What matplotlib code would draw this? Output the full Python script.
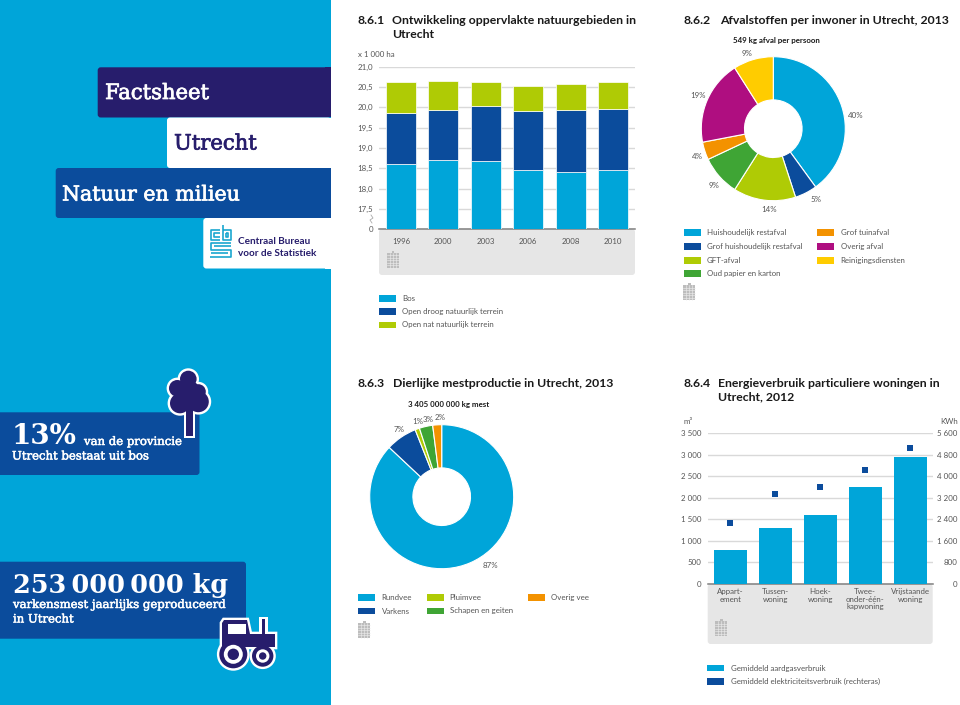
import matplotlib
matplotlib.use("Agg")
import matplotlib.pyplot as plt
import matplotlib.patheffects as pe
from matplotlib.patches import Rectangle, FancyBboxPatch, Circle, Polygon

W, H = 960, 705
BLUE = "#00A5D9"
DARK = "#0B4C9C"
NAVY = "#271D6C"
LIME = "#AFCB05"
GREEN = "#3FA535"
ORANGE = "#F39200"
MAGENTA = "#AF0E80"
YELLOW = "#FFCC00"
GRID = "#D9D9D9"
AXIS = "#808080"
TXT = "#555555"
PANEL = "#E6E6E6"
SANS = "Lato"
SLAB = "DejaVu Serif"
SMALL = 5.7

# 8.6.1 oppervlakte natuurgebieden
years = ["1996", "2000", "2003", "2006", "2008", "2010"]
bos = [18.60, 18.70, 18.67, 18.45, 18.42, 18.45]
droog = [1.25, 1.23, 1.36, 1.47, 1.51, 1.50]
nat = [0.77, 0.72, 0.59, 0.60, 0.65, 0.68]
area_ticks = [17.5, 18.0, 18.5, 19.0, 19.5, 20.0, 20.5, 21.0]
area_names = ["Bos", "Open droog natuurlijk terrein", "Open nat natuurlijk terrein"]

# 8.6.2 afval
waste_names = ["Huishoudelijk restafval", "Grof huishoudelijk restafval", "GFT-afval",
               "Oud papier en karton", "Grof tuinafval", "Overig afval", "Reinigingsdiensten"]
waste_pct = [40, 5, 14, 9, 4, 19, 9]

# 8.6.3 mest
manure_names = ["Rundvee", "Varkens", "Pluimvee", "Schapen en geiten", "Overig vee"]
manure_pct = [87, 7, 1, 3, 2]

# 8.6.4 energie
house_types = ["Appart-\nement", "Tussen-\nwoning", "Hoek-\nwoning",
               "Twee-\nonder-één-\nkapwoning", "Vrijstaande\nwoning"]
gas = [800, 1300, 1600, 2250, 2950]
power = [2250, 3350, 3600, 4250, 5050]
gas_ticks = [0, 500, 1000, 1500, 2000, 2500, 3000, 3500]
power_ticks = [0, 800, 1600, 2400, 3200, 4000, 4800, 5600]
energy_names = ["Gemiddeld aardgasverbruik", "Gemiddeld elektriciteitsverbruik (rechteras)"]


def spaced(v):
    return f"{v:,}".replace(",", " ")


def chart_axes(x0, y0, x1, y1):
    # pixel box, y measured from the top
    ax = fig.add_axes([x0 / W, 1 - y1 / H, (x1 - x0) / W, (y1 - y0) / H])
    ax.patch.set_visible(False)
    for s in ax.spines.values():
        s.set_visible(False)
    ax.spines["bottom"].set_visible(True)
    ax.spines["bottom"].set_color(AXIS)
    ax.spines["bottom"].set_linewidth(1.1)
    return ax


def label(x, y, s, size=SMALL, color=TXT, ha="left", weight="normal", family=SANS, zorder=10, fat=0):
    t = bg.text(x, y, s, fontsize=size, color=color, ha=ha, va="center",
                fontweight=weight, family=family, zorder=zorder)
    if fat:
        t.set_path_effects([pe.withStroke(linewidth=fat, foreground=color)])


def band(x0, y0, x1, y1, color, square_right=True):
    bg.add_patch(FancyBboxPatch((x0 + 3, y0 + 3), x1 - x0 - 6, y1 - y0 - 6,
                                boxstyle="round,pad=3,rounding_size=3", fc=color, ec="none", zorder=2))
    if square_right:
        bg.add_patch(Rectangle((x1 - 6, y0), 6, y1 - y0, fc=color, ec="none", zorder=2))


def panel(x0, y0, x1, y1):
    bg.add_patch(FancyBboxPatch((x0 + 3, y0 + 3), x1 - x0 - 6, y1 - y0 - 6,
                                boxstyle="round,pad=3,rounding_size=3", fc=PANEL, ec="none", zorder=1))


def legend_row(x, y, color, s, tx):
    bg.add_patch(Rectangle((x, y - 3.3), 17, 6.6, fc=color, ec="none"))
    label(tx, y, s)


def doc_icon(x, y):
    bg.add_patch(Rectangle((x, y + 2), 12, 15, fc="#BDBDBD", ec="none", zorder=3))
    bg.add_patch(Rectangle((x + 5, y), 2.5, 2.5, fc="#BDBDBD", ec="none", zorder=3))
    for i in range(1, 6):
        bg.plot([x, x + 12], [y + 2 + i * 2.5] * 2, color="#EEEEEE", lw=0.4, zorder=4)
    for i in range(1, 4):
        bg.plot([x + i * 3] * 2, [y + 2, y + 17], color="#EEEEEE", lw=0.4, zorder=4)


def donut(cx, cy, values, colors):
    R = 72
    ax = fig.add_axes([(cx - R) / W, 1 - (cy + R) / H, 2 * R / W, 2 * R / H])
    ax.pie(values, colors=colors, startangle=90, counterclock=False, radius=1,
           wedgeprops=dict(width=0.6, edgecolor="white", linewidth=0.8))
    ax.set_xlim(-1, 1)
    ax.set_ylim(-1, 1)
    return ax


fig = plt.figure(figsize=(W / 100, H / 100), dpi=100, facecolor="white")
bg = fig.add_axes([0, 0, 1, 1])
bg.set_xlim(0, W)
bg.set_ylim(H, 0)
bg.axis("off")

# left column
bg.add_patch(Rectangle((0, 0), 331, H, fc=BLUE, ec="none", zorder=0))
band(97.7, 67.3, 331, 117.5, NAVY)
band(167, 117.5, 331, 168, "white")
band(55.7, 168, 331, 218, DARK)
band(203.3, 218, 331, 268.5, "white")
label(105, 93.5, "Factsheet", 15.2, "white", family=SLAB, zorder=5, fat=0.5)
label(174, 144, "Utrecht", 15.2, NAVY, family=SLAB, zorder=5, fat=0.5)
label(62, 195, "Natuur en milieu", 14.8, "white", family=SLAB, zorder=5, fat=0.5)
label(238, 242, "Centraal Bureau", 7.2, NAVY, weight="bold", zorder=5)
label(238, 254, "voor de Statistiek", 7.2, NAVY, weight="bold", zorder=5)

# cbs logo
for xs, ys in [([220, 211, 211, 220], [230, 230, 240, 240]),
               ([220, 214, 214, 220], [233, 233, 237, 237]),
               ([222.5, 222.5, 231, 231, 222.5], [225, 240, 240, 230, 230]),
               ([225.5, 228, 228, 225.5, 225.5], [233, 233, 237, 237, 233]),
               ([231, 211, 211, 231, 231, 210], [243, 243, 249.5, 249.5, 257, 257]),
               ([214, 231], [246, 246]), ([211, 228], [253, 253])]:
    bg.plot(xs, ys, color="#1AA7CF", lw=1.2, zorder=5, solid_capstyle="butt")

band(-10, 412.3, 199.5, 475, DARK, square_right=False)
band(-10, 561.7, 246, 638.7, DARK, square_right=False)
label(12, 436, "13%", 20, "white", weight="bold", family=SLAB, zorder=6)
label(84, 441.5, "van de provincie", 8.4, "white", family=SLAB, zorder=6, fat=0.35)
label(12, 456, "Utrecht bestaat uit bos", 8.4, "white", family=SLAB, zorder=6, fat=0.35)
label(13, 585, "253\u2009000\u2009000 kg", 18.4, "white", weight="bold", family=SLAB, zorder=8)
label(13, 604.5, "varkensmest jaarlijks geproduceerd", 8.4, "white", family=SLAB, zorder=8, fat=0.35)
label(13, 619, "in Utrecht", 8.4, "white", family=SLAB, zorder=8, fat=0.35)

# tree icon
tree = [(188.3, 379, 8.3), (177.3, 388.3, 8.3), (198.3, 391.7, 7.5), (180, 403.3, 10), (198.3, 401.7, 10.5),
        (188, 392, 12)]
for edge, col, z in [(2.4, "white", 6), (0, NAVY, 7)]:
    for x, y, r in tree:
        bg.add_patch(Circle((x, y), r + edge, fc=col, ec="none", zorder=z))
    bg.add_patch(Rectangle((186 - edge, 405), 7 + 2 * edge, 31 + edge, fc=col, ec="none", zorder=z))

# tractor icon
body = [(224, 620), (247, 620), (250, 634), (275, 634), (275, 647), (222, 647), (222, 623)]
for edge, col, z in [(2.4, "white", 9), (0, NAVY, 10)]:
    bg.add_patch(Polygon(body, closed=True, fc=col, ec="white" if edge else "none",
                         lw=edge * 1.4, zorder=z))
    bg.add_patch(Rectangle((261.7 - edge, 619 - edge), 3.6 + 2 * edge, 20, fc=col, ec="none", zorder=z))
    bg.add_patch(Circle((233.3, 654.3), 14 + edge, fc=col, ec="none", zorder=z))
    bg.add_patch(Circle((262.7, 656), 10.7 + edge, fc=col, ec="none", zorder=z))
bg.add_patch(Rectangle((228, 624), 18, 10, fc="white", ec="none", zorder=11))
for x, y, r1, r2 in [(233.3, 654.3, 9.5, 5.7), (262.7, 656, 6.7, 3.7)]:
    bg.add_patch(Circle((x, y), r1, fc="white", ec="none", zorder=11))
    bg.add_patch(Circle((x, y), r2, fc=NAVY, ec="none", zorder=12))

# titles
title = dict(size=8.8, color="#1A1A1A", weight="bold")
label(358, 21, "8.6.1", **title)
label(392.3, 21, "Ontwikkeling oppervlakte natuurgebieden in", **title)
label(392.3, 35, "Utrecht", **title)
label(683, 21, "8.6.2", **title)
label(720, 21, "Afvalstoffen per inwoner in Utrecht, 2013", **title)
label(358, 383.5, "8.6.3", **title)
label(393, 383.5, "Dierlijke mestproductie in Utrecht, 2013", **title)
label(683, 383.5, "8.6.4", **title)
label(718, 383.5, "Energieverbruik particuliere woningen in", **title)
label(718, 397, "Utrecht, 2012", **title)

# 8.6.1
panel(379, 229, 635, 275)
ax1 = chart_axes(379, 66.7, 635, 229.3)
pos = list(range(len(years)))
base = [b - 17 for b in bos]
ax1.bar(pos, base, 0.708, color=BLUE, edgecolor="white", linewidth=0.5, zorder=3)
mid = [b + d for b, d in zip(base, droog)]
ax1.bar(pos, droog, 0.708, bottom=base, color=DARK, edgecolor="white", linewidth=0.5, zorder=3)
ax1.bar(pos, nat, 0.708, bottom=mid, color=LIME, edgecolor="white", linewidth=0.5, zorder=3)
ax1.set_xlim(-0.519, 5.52)
ax1.set_ylim(0, 4)
ax1.set_xticks(pos, years)
yt = [0] + [t - 17 for t in area_ticks]
ax1.set_yticks(yt, ["0"] + [f"{t:.1f}".replace(".", ",") for t in area_ticks])
ax1.tick_params(axis="x", length=0, pad=6, labelsize=SMALL, labelcolor=TXT)
ax1.tick_params(axis="y", length=0, pad=4.2, labelsize=SMALL, labelcolor=TXT)
ax1.grid(axis="y", color=GRID, lw=1, zorder=0)
ax1.set_axisbelow(True)
for t in ax1.get_xticklabels() + ax1.get_yticklabels():
    t.set_family(SANS)
label(358, 54.7, "x 1 000 ha")
bg.plot([371, 373, 370, 372], [215, 218, 220, 223], color="#AAAAAA", lw=0.6)
doc_icon(386.5, 250.5)
for y, c, s in zip([298.5, 311.7, 325], [BLUE, DARK, LIME], area_names):
    legend_row(379.3, y, c, s, 402.3)

# 8.6.2
waste_colors = [BLUE, DARK, LIME, GREEN, ORANGE, MAGENTA, YELLOW]
donut(773.3, 128.7, waste_pct, waste_colors)
label(776, 41, "549 kg afval per persoon", SMALL, "#1A1A1A", ha="center", weight="bold")
waste_xy = [(855.3, 115), (816.3, 200), (769, 209.3), (713.7, 186), (697, 156.7), (697.7, 95), (747.3, 53.3)]
for (x, y), v in zip(waste_xy, waste_pct):
    label(x, y, f"{v}%", ha="center")
rows2 = [232.7, 246.7, 260.2, 273.7]
for y, c, s in zip(rows2, waste_colors[:4], waste_names[:4]):
    legend_row(683.7, y, c, s, 706.7)
for y, c, s in zip(rows2, waste_colors[4:], waste_names[4:]):
    legend_row(817.3, y, c, s, 840.7)
doc_icon(683.3, 283.3)

# 8.6.3
manure_colors = [BLUE, DARK, LIME, GREEN, ORANGE]
donut(441.7, 496.7, manure_pct, manure_colors)
label(448.7, 404, "3 405 000 000 kg mest", SMALL, "#1A1A1A", ha="center", weight="bold")
manure_xy = [(490, 566), (398.7, 429), (417.3, 421), (427.7, 419), (440, 417.7)]
for (x, y), v in zip(manure_xy, manure_pct):
    label(x, y, f"{v}%", ha="center")
legend_row(358.3, 597.3, BLUE, manure_names[0], 381.7)
legend_row(358.3, 611, DARK, manure_names[1], 381.7)
legend_row(426.7, 597.3, LIME, manure_names[2], 449.7)
legend_row(426.7, 611, GREEN, manure_names[3], 449.7)
legend_row(528, 597.3, ORANGE, manure_names[4], 551.3)
doc_icon(358.3, 620.7)

# 8.6.4
panel(707.7, 584, 932.7, 644)
ax4 = chart_axes(707.7, 433.3, 932.7, 584)
pos = list(range(len(house_types)))
ax4.bar(pos, gas, 0.727, color=BLUE, zorder=3)
ax4.set_xlim(-0.5, 4.5)
ax4.set_ylim(0, 3500)
ax4.set_xticks(pos, house_types, linespacing=1.1)
ax4.set_yticks(gas_ticks, [spaced(v) for v in gas_ticks])
ax4.tick_params(axis="x", length=0, pad=3, labelsize=SMALL, labelcolor=TXT)
ax4.tick_params(axis="y", length=0, pad=4.4, labelsize=SMALL, labelcolor=TXT)
ax4.grid(axis="y", color=GRID, lw=1, zorder=0)
ax4.set_axisbelow(True)
ax4r = ax4.twinx()
ax4r.patch.set_visible(False)
for s in ax4r.spines.values():
    s.set_visible(False)
ax4r.scatter(pos, power, marker="s", s=24, color=DARK, linewidths=0, zorder=5)
ax4r.set_ylim(0, 5600)
ax4r.set_yticks(power_ticks, [spaced(v) for v in power_ticks])
ax4r.tick_params(axis="y", length=0, pad=18, labelsize=SMALL, labelcolor=TXT)
for t in ax4r.get_yticklabels():
    t.set_ha("right")
    t.set_family(SANS)
for t in ax4.get_xticklabels() + ax4.get_yticklabels():
    t.set_family(SANS)
label(683.7, 421, "m³")
label(958, 421, "KWh", ha="right")
doc_icon(715, 619.3)
legend_row(707.3, 668, BLUE, energy_names[0], 730.7)
legend_row(707.3, 681.5, DARK, energy_names[1], 730.7)

fig.savefig("out.png", dpi=100)
